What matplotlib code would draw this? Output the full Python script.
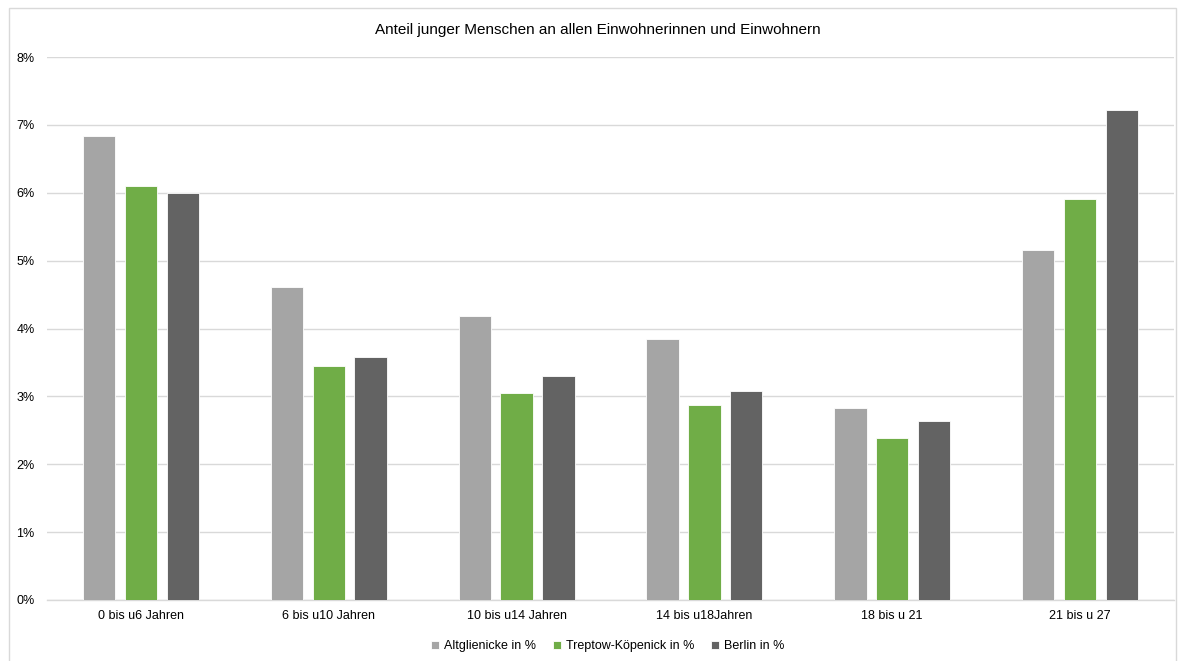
import matplotlib
matplotlib.use("Agg")
import matplotlib.pyplot as plt
from matplotlib.patches import Rectangle
from matplotlib.ticker import FuncFormatter, MultipleLocator
import numpy as np

plt.rcParams['font.family'] = ['Liberation Sans', 'DejaVu Sans']

categories = ["0 bis u6 Jahren", "6 bis u10 Jahren", "10 bis u14 Jahren",
              "14 bis u18Jahren", "18 bis u 21", "21 bis u 27"]
series_names = ["Altglienicke in %", "Treptow-Köpenick in %", "Berlin in %"]
altglienicke = [6.83, 4.61, 4.18, 3.84, 2.83, 5.15]
treptow = [6.10, 3.45, 3.05, 2.87, 2.38, 5.91]
berlin = [6.00, 3.58, 3.30, 3.08, 2.64, 7.22]
colors = ["#A5A5A5", "#70AD47", "#636363"]
title = "Anteil junger Menschen an allen Einwohnerinnen und Einwohnern"

fig = plt.figure(figsize=(11.8, 6.61), dpi=100)
ax = fig.add_axes([47/1180, 1 - 600/661, (1174-47)/1180, (600-57)/661])

x = np.arange(len(categories))
width = 0.172
offsets = [-0.223, 0.0, 0.223]
for vals, off, col, name in zip([altglienicke, treptow, berlin], offsets, colors, series_names):
    ax.bar(x + off, vals, width, color=col, edgecolor="#FFFFFF", linewidth=0.6,
           label=name, zorder=3)

ax.set_xlim(-0.5, len(categories) - 0.5)
ax.set_ylim(0, 8)
ax.yaxis.set_major_locator(MultipleLocator(1))
ax.yaxis.set_major_formatter(FuncFormatter(lambda v, p: f"{v:.0f}%"))
ax.grid(axis="y", color="#D9D9D9", linewidth=1.0, zorder=0)
ax.set_axisbelow(True)
for s in ["top", "right", "left"]:
    ax.spines[s].set_visible(False)
ax.spines["bottom"].set_color("#D9D9D9")
ax.spines["bottom"].set_linewidth(1.0)
ax.tick_params(axis="both", length=0, labelsize=9, colors="#000000")
ax.tick_params(axis="y", pad=9)
ax.tick_params(axis="x", pad=7)
ax.set_xticks(x)
ax.set_xticklabels(categories)

fig.text(598/1180, 1 - 30/661, title, ha="center", va="center", fontsize=11)

leg = ax.legend(loc="center", bbox_to_anchor=(0.4975, -0.085), ncol=3, frameon=False,
                fontsize=9, handlelength=0.6, handleheight=0.6, handletextpad=0.4,
                columnspacing=1.4)

# chart frame
fig.patches.append(Rectangle((9/1180, -0.01), (1176-9)/1180, 1 - 8/661 + 0.01,
                             transform=fig.transFigure, fill=False,
                             edgecolor="#D9D9D9", linewidth=1.0))

fig.savefig("out.png", dpi=100)
